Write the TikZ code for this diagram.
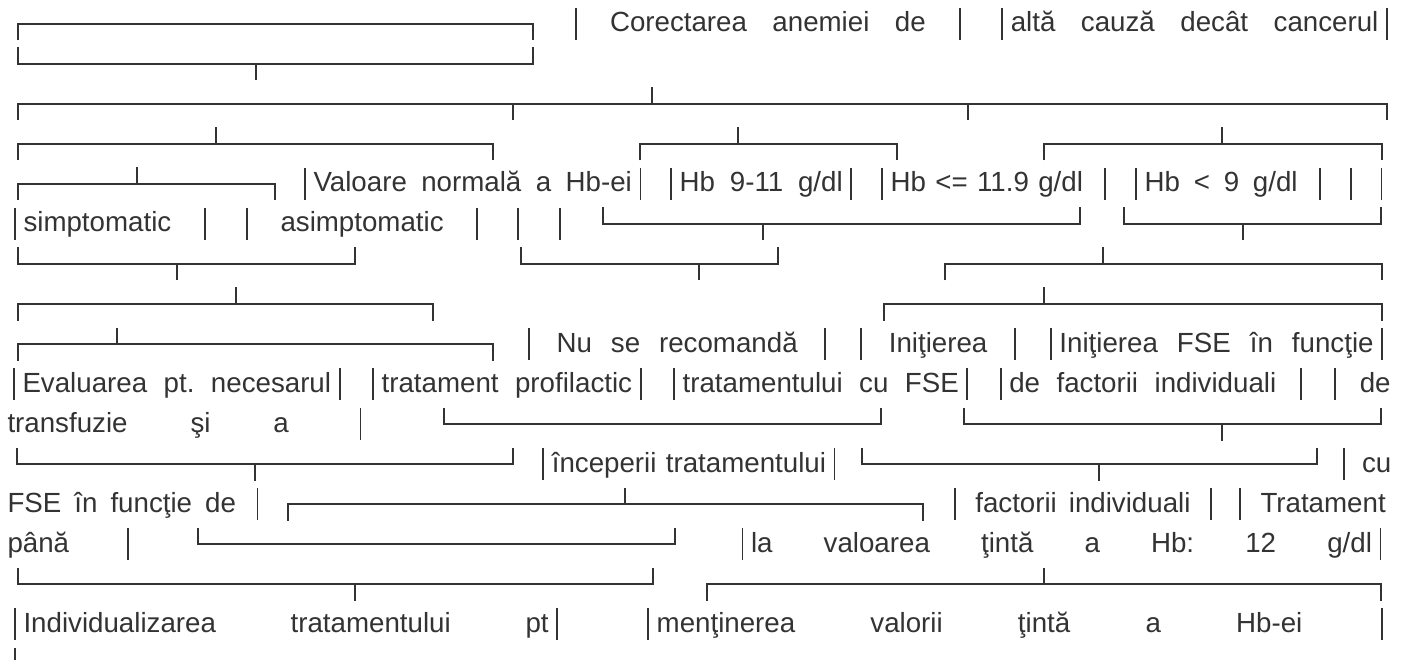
\documentclass[tikz,border=0pt]{standalone}
\usepackage{fontspec}
\setmainfont{Liberation Sans}
\definecolor{ink}{RGB}{51,51,51}
\newcommand\tSeg[5]{\node[txt] (#1) at (#2,#3) {\makebox[#4pt][s]{#5}};}
\newcommand\tWord[4]{\node[txt] (#1) at (#2,#3) {#4};}
\newcommand\tBar[2]{\draw[ln] (#1,#2-16) -- (#1,#2+16);}
\newcommand\tOpen[3]{\draw[ln] (#1,#3+16.5) -- (#1,#3) -- (#2,#3) -- (#2,#3+16.5);}
\newcommand\tClose[3]{\draw[ln] (#1,#3-16.5) -- (#1,#3) -- (#2,#3) -- (#2,#3-16.5);}
\newcommand\tUp[2]{\draw[ln] (#1,#2) -- (#1,#2-16.5);}
\newcommand\tDn[2]{\draw[ln] (#1,#2) -- (#1,#2+16.5);}
\begin{document}
\frenchspacing
\begin{tikzpicture}[x=1pt,y=-1pt,
  ln/.style={draw=ink,line width=1.8pt},
  txt/.style={anchor=base west,inner sep=0pt,outer sep=0pt,text=ink,font=\fontsize{27.7}{33}\selectfont\frenchspacing}]
\useasboundingbox (0,0) rectangle (1408,660);
\fill[white] (0,0) rectangle (1408,660);
% row 0
\tOpen{18}{533}{24}
\tBar{576}{24}\tBar{959.8}{24}\tBar{1002.3}{24}\tBar{1386.9}{24}
\tSeg{t1}{610}{32}{315.8}{Corectarea anemiei de}
\tSeg{t2}{1010.8}{32}{367.6}{altă cauză decât cancerul}
% row 1
\tClose{18}{533}{64}\tDn{256}{64}
% row 2
\tOpen{18}{1387}{104}\tDn{513}{104}\tDn{968}{104}\tUp{652}{104}
% row 3
\tOpen{18}{493}{144}\tUp{216}{144}
\tOpen{640}{897}{144}\tUp{738}{144}
\tOpen{1044}{1382}{144}\tUp{1222}{144}
% row 4
\tOpen{18}{275}{184}\tUp{137}{184}
\tBar{305}{184}\tBar{640.4}{184}\tBar{671.2}{184}\tBar{851.3}{184}\tBar{882.1}{184}
\tBar{1105.3}{184}\tBar{1136.1}{184}\tBar{1319.9}{184}\tBar{1350.7}{184}\tBar{1381.5}{184}
\tSeg{t3}{313.5}{192}{318.4}{Valoare normală a Hb-ei}
\tSeg{t4}{679.7}{192}{163.1}{Hb 9-11 g/dl}
\tSeg{t5}{890.6}{192}{192.4}{Hb <= 11.9 g/dl}
\tSeg{t6}{1144.6}{192}{153}{Hb < 9 g/dl}
% row 5
\tBar{15}{224}\tBar{205}{224}\tBar{247}{224}\tBar{477}{224}\tBar{518}{224}\tBar{560}{224}
\tWord{t7}{23.5}{232}{simptomatic}
\tWord{t8}{280.5}{232}{asimptomatic}
\tClose{603}{1080}{224}\tDn{763}{224}
\tClose{1124}{1381}{224}\tDn{1243}{224}
% row 6
\tClose{18}{355}{264}\tDn{177}{264}
\tClose{521}{778}{264}\tDn{699}{264}
\tOpen{945}{1382}{264}\tUp{1103}{264}
% row 7
\tOpen{18}{433}{304}\tUp{236}{304}
\tOpen{884}{1382}{304}\tUp{1044}{304}
% row 8
\tOpen{18}{493}{344}\tUp{117}{344}
\tBar{529}{344}\tBar{825.2}{344}\tBar{861.3}{344}\tBar{1014.9}{344}\tBar{1050.9}{344}\tBar{1382}{344}
\tSeg{t9}{556.6}{352}{241.1}{Nu se recomandă}
\tWord{t10}{888.8}{352}{Iniţierea}
\tSeg{t11}{1059.4}{352}{314.2}{Iniţierea FSE în funcţie}
% row 9
\tBar{14}{384}\tBar{339.6}{384}\tBar{373.1}{384}\tBar{640.6}{384}\tBar{674.1}{384}
\tBar{967.3}{384}\tBar{1000.8}{384}\tBar{1301.3}{384}\tBar{1334.8}{384}
\tSeg{t12}{22.5}{392}{308.6}{Evaluarea pt. necesarul}
\tSeg{t13}{381.6}{392}{250.5}{tratament profilactic}
\tSeg{t14}{682.6}{392}{276.2}{tratamentului cu FSE}
\tSeg{t15}{1009.3}{392}{267}{de factorii individuali}
\tWord{t16}{1359.8}{392}{de}
% row 10
\tSeg{t17}{7.5}{432}{281.4}{transfuzie şi a}
\tBar{360.4}{424}
\tClose{444}{881}{424}
\tClose{964}{1381}{424}\tDn{1222}{424}
% row 11
\tClose{17}{513}{464}\tDn{255}{464}
\tBar{543}{464}
\tSeg{t18}{551.8}{472}{274.2}{începerii tratamentului}
\tBar{834.5}{464}
\tClose{862}{1317}{464}\tDn{1099}{464}
\tBar{1344}{464}
\tWord{t19}{1362}{472}{cu}
% row 12
\tSeg{t20}{7.5}{512}{228.5}{FSE în funcţie de}
\tBar{257.5}{504}
\tOpen{288}{923}{504}\tUp{625}{504}
\tBar{954.8}{504}
\tSeg{t21}{975.3}{512}{215.2}{factorii individuali}
\tBar{1211}{504}\tBar{1240}{504}
\tWord{t22}{1260.5}{512}{Tratament}
% row 13
\tWord{t23}{7.5}{552}{până}
\tBar{128}{544}
\tClose{198}{675}{544}
\tBar{742.5}{544}
\tSeg{t24}{751}{552}{621}{la valoarea ţintă a Hb: 12 g/dl}
\tBar{1380.5}{544}
% row 14
\tClose{18}{653}{584}\tDn{355}{584}
\tOpen{707}{1381}{584}\tUp{1044}{584}
% row 15
\tBar{15}{624}
\tSeg{t25}{23.5}{632}{525.2}{Individualizarea tratamentului pt}
\tBar{557.2}{624}\tBar{648.2}{624}
\tSeg{t26}{656.7}{632}{645.7}{menţinerea valorii ţintă a Hb-ei}
\tBar{1382}{624}
% row 16
\draw[ln] (15,648) -- (15,662);
\end{tikzpicture}
\end{document}
